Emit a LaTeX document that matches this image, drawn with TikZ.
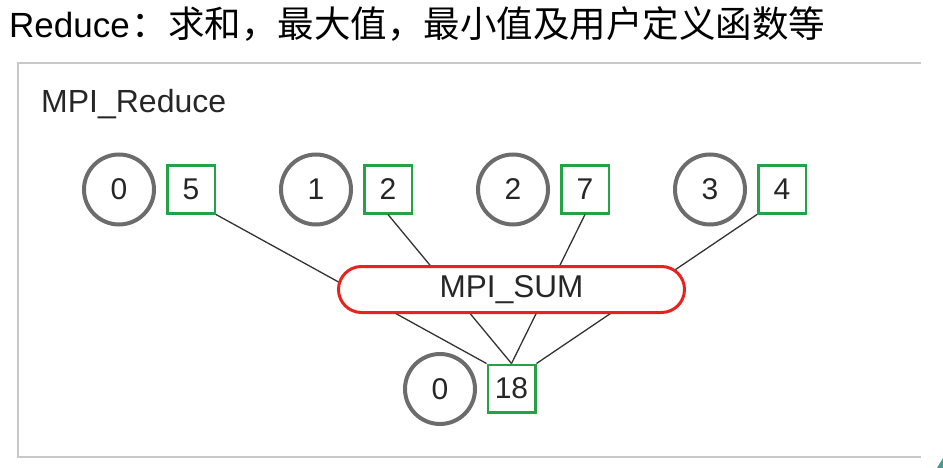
\documentclass[tikz,border=0pt]{standalone}
\usepackage{fontspec}
\setmainfont{Liberation Sans}
\newfontfamily\cjk{Noto Sans CJK SC}
\usetikzlibrary{shapes.misc}
\definecolor{procgray}{HTML}{6C6C6C}
\definecolor{valgreen}{HTML}{23A345}
\definecolor{opred}{HTML}{E8221E}
\definecolor{linegray}{HTML}{333333}
\definecolor{framegray}{HTML}{C8C8C8}
\definecolor{tealbit}{HTML}{4A9A90}
\tikzset{
  proc/.style={circle, draw=procgray, line width=4pt, minimum size=70pt, inner sep=0pt,
    font=\fontsize{30}{36}\selectfont, text=black!85},
  val/.style={rectangle, draw=valgreen, line width=2.5pt, minimum size=47.5pt, inner sep=0pt,
    font=\fontsize{30}{36}\selectfont, text=black!85},
  op/.style={rounded rectangle, draw=opred, line width=3pt, fill=white, minimum width=346pt,
    minimum height=46pt, inner sep=0pt, font=\fontsize{31.5}{36}\selectfont, text=black!85},
  link/.style={draw=linegray, line width=1.3pt},
  frame/.style={draw=framegray, line width=2pt}
}
\begin{document}
\begin{tikzpicture}[x=1pt,y=-1pt]
\useasboundingbox (0,0) rectangle (943,468);
% title
\node[anchor=base west, inner sep=0pt, font=\fontsize{35}{40}\selectfont] (title) at (9,38)
  {Reduce{\cjk\fontsize{36.5}{40}\selectfont\hspace{2pt}：求和，最大值，最小值及用户定义函数等}};
% frame
\draw[frame] (921,63) -- (18,63) -- (18,457) -- (921,457);
\fill[tealbit] (937,468) -- (943,458) -- (943,468) -- cycle;
% label
\node[anchor=base west, inner sep=0pt, font=\fontsize{32}{36}\selectfont, text=black!85] (lbl) at (41,113) {MPI\_Reduce};
% processes and values
\node[proc] (p0) at (119,189.5) {0};
\node[val]  (v0) at (191,189.5) {5};
\node[proc] (p1) at (316,189.5) {1};
\node[val]  (v1) at (388,189.5) {2};
\node[proc] (p2) at (513,189.5) {2};
\node[val]  (v2) at (585,189.5) {7};
\node[proc] (p3) at (710,189.5) {3};
\node[val]  (v3) at (782,189.5) {4};
\node[proc] (r0) at (440,389) {0};
\node[val]  (res) at (511.5,388.5) {18};
% connectors
\draw[link] (v0.south east) -- (res.north west);
\draw[link] (v1.south) -- (res.north);
\draw[link] (v2.south) -- (res.north);
\draw[link] (v3.south west) -- (res.north east);
% operation
\node[op] (sum) at (511.5,289.5) {MPI\_SUM};
\end{tikzpicture}
\end{document}
